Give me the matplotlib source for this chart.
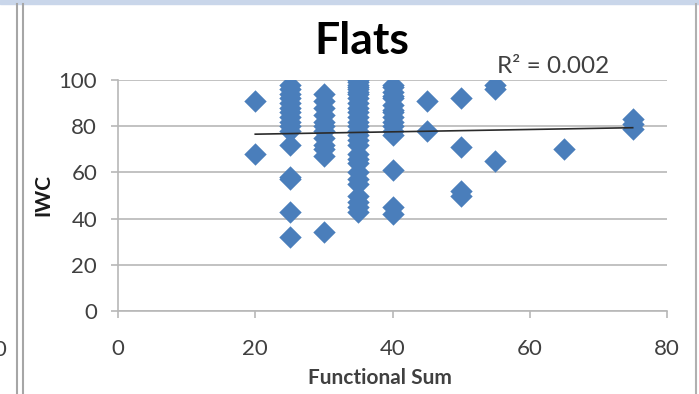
import matplotlib
matplotlib.use("Agg")
import matplotlib.pyplot as plt
from matplotlib.lines import Line2D
from matplotlib.patches import Rectangle
import numpy as np

# Functional Sum levels and IWC values read at each level
fs_levels = [20, 25, 30, 35, 40, 45, 50, 55, 65, 75]
iwc_20 = [91, 68]
iwc_25 = [98, 96, 94, 92, 90, 88, 86, 84, 82, 80, 78, 72, 58, 57, 43, 32]
iwc_30 = [94, 91, 88, 85, 82, 80, 78, 75, 72, 70, 67, 34]
iwc_35 = [100, 99, 98, 97, 96, 95, 94, 92, 90, 88, 86, 84, 82, 80, 78, 76, 74, 72,
          68, 66, 64, 60, 57, 55, 50, 47, 45, 43]
iwc_40 = [98, 97, 95, 93, 92, 89, 87, 86, 84, 82, 80, 78, 76, 61, 45, 42]
iwc_45 = [91, 78]
iwc_50 = [92, 71, 52, 50]
iwc_55 = [98, 96, 65]
iwc_65 = [70]
iwc_75 = [83, 81, 79]

groups = [iwc_20, iwc_25, iwc_30, iwc_35, iwc_40, iwc_45, iwc_50, iwc_55, iwc_65, iwc_75]
x = np.concatenate([[fs] * len(g) for fs, g in zip(fs_levels, groups)]).astype(float)
y = np.concatenate(groups).astype(float)

BLUE = "#4a7ebb"
GRID = "#b8b8b8"
TXT = "#404040"

plt.rcParams["font.family"] = ["Lato", "DejaVu Sans"]

fig = plt.figure(figsize=(6.99, 3.94), dpi=100)
ax = fig.add_axes([118 / 699, 1 - 311 / 394, (667 - 118) / 699, (311 - 80) / 394])

ax.scatter(x, y, marker="D", s=130, color=BLUE, linewidths=0, zorder=3)

# linear trend line
slope, icpt = np.polyfit(x, y, 1)
xt = np.array([x.min(), x.max()])
ax.plot(xt, slope * xt + icpt, color="#2b2b2b", linewidth=1.2, zorder=4)

ax.set_xlim(0, 80)
ax.set_ylim(0, 100)
ax.set_xticks(range(0, 81, 20))
ax.set_yticks(range(0, 101, 20))
ax.yaxis.grid(True, color=GRID, linewidth=1.2)
ax.set_axisbelow(True)
for s in ("top", "right"):
    ax.spines[s].set_visible(False)
for s in ("left", "bottom"):
    ax.spines[s].set_color(GRID)
    ax.spines[s].set_linewidth(1.2)
ax.tick_params(direction="out", length=5, width=1.2, color=GRID,
               labelsize=16, labelcolor=TXT)
ax.tick_params(axis="y", pad=10)
ax.tick_params(axis="x", pad=15)

ax.set_xlabel("Functional Sum", fontsize=15, fontweight="bold", color=TXT)
ax.xaxis.set_label_coords((380 - 118) / 549, -(378 - 311) / 231, transform=ax.transAxes)
ax.xaxis.label.set_va("center")
ax.set_ylabel("IWC", fontsize=15, fontweight="bold", color="#1a1a1a", labelpad=4)
fig.text(362 / 699, 1 - 41 / 394, "Flats", fontsize=32, fontweight="bold",
         color="black", ha="center", va="center")

ax.text(55.3, 101.5, "R² = 0.002", fontsize=17.5, color=TXT, va="bottom", ha="left",
        clip_on=False)

# screenshot frame bits
fig.patches.append(Rectangle((0, 1 - 4 / 394), 1, 4 / 394, transform=fig.transFigure,
                             color="#c9d6ea", zorder=0))
for px in (17, 23):
    fig.lines.append(Line2D([px / 699, px / 699], [0, 1 - 4 / 394], transform=fig.transFigure,
                            color="#a6a6a6", linewidth=1.5))
fig.lines.append(Line2D([696 / 699, 696 / 699], [0, 1 - 4 / 394], transform=fig.transFigure,
                        color="#b0b0b0", linewidth=1.5))
fig.text(-7 / 699, 1 - 350 / 394, "0", fontsize=16, color=TXT, va="center", ha="left")

fig.savefig("out.png", dpi=100)
